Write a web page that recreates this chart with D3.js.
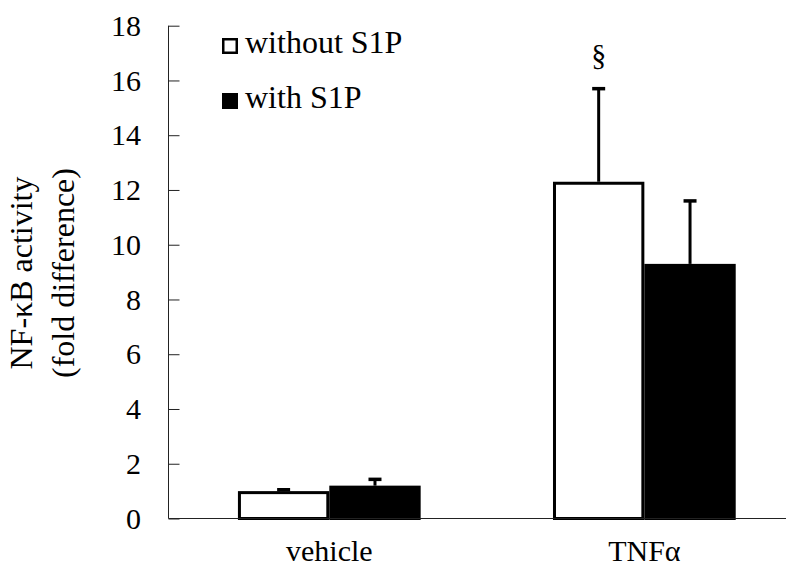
<!DOCTYPE html>
<html>
<head>
<meta charset="utf-8">
<script src="https://cdn.jsdelivr.net/npm/d3@7"></script>
<style>
  html, body { margin: 0; padding: 0; background: #fff; }
  svg text { font-family: "Liberation Serif", "Times New Roman", "DejaVu Serif", serif; }
</style>
</head>
<body>
<svg id="chart" width="788" height="569"></svg>
<script>
// NF-κB activity, fold difference over control
const categories = ["vehicle", "TNFα"];
const seriesNames = ["without S1P", "with S1P"];
const withoutS1P = [1.0, 12.3];
const withS1P = [1.2, 9.3];
const withoutS1PErr = [0.05, 3.4];
const withS1PErr = [0.23, 2.3];
const yTicks = [0, 2, 4, 6, 8, 10, 12, 14, 16, 18];
const yLabelLines = ["NF-κB activity", "(fold difference)"];
const significance = [null, "§"];

const FONT = "Liberation Serif, Times New Roman, serif";
const svg = d3.select("#chart");
const plotLeft = 168.5, plotRight = 786, plotTop = 25.7, plotBottom = 518.5;

const y = d3.scaleLinear().domain([0, 18]).range([plotBottom, plotTop]);
const x = d3.scaleBand().domain(categories).range([plotLeft, plotRight])
  .paddingInner(0.42).paddingOuter(0.19).align(0.58);
const xs = d3.scaleBand().domain(seriesNames).range([0, x.bandwidth()]).padding(0);

const fills = { "without S1P": "#fff", "with S1P": "#000" };
const rows = categories.map((c, i) => ({
  cat: c,
  sig: significance[i],
  vals: [
    { s: seriesNames[0], v: withoutS1P[i], e: withoutS1PErr[i] },
    { s: seriesNames[1], v: withS1P[i], e: withS1PErr[i] }
  ]
}));

// y axis
const yAxis = d3.axisRight(y).tickValues(yTicks).tickSize(11).tickFormat("");
const gy = svg.append("g").attr("transform", `translate(${plotLeft},0)`).call(yAxis);
gy.select(".domain").attr("stroke", "#222").attr("d", `M0,${plotTop}V${plotBottom}`);
gy.selectAll(".tick line").attr("stroke", "#222");
svg.append("g").selectAll("text").data(yTicks).join("text")
  .attr("x", 141).attr("y", d => y(d)).attr("dy", "0.34em")
  .attr("text-anchor", "end").attr("font-family", FONT).attr("font-size", 30).attr("fill", "#000")
  .text(d => d);

// y label
const yl = svg.append("text")
  .attr("transform", `translate(0,273) rotate(-90)`)
  .attr("text-anchor", "middle").attr("font-family", FONT).attr("font-size", 32).attr("fill", "#000");
yLabelLines.forEach((t, i) => {
  yl.append("tspan").attr("x", 0).attr("y", 32 + i * 42).text(t);
});

// bars
const groups = svg.append("g").selectAll("g").data(rows).join("g")
  .attr("transform", d => `translate(${x(d.cat)},0)`);

// error bars (drawn behind the bars)
groups.selectAll("g.err").data(d => d.vals).join("g").attr("class", "err")
  .each(function(d) {
    const g = d3.select(this);
    const cx = xs(d.s) + xs.bandwidth() / 2;
    g.append("line").attr("x1", cx).attr("x2", cx)
      .attr("y1", y(d.v)).attr("y2", y(d.v + d.e))
      .attr("stroke", "#000").attr("stroke-width", 3);
    g.append("line").attr("x1", cx - 6.5).attr("x2", cx + 6.5)
      .attr("y1", y(d.v + d.e)).attr("y2", y(d.v + d.e))
      .attr("stroke", "#000").attr("stroke-width", 3.5);
  });

groups.selectAll("rect").data(d => d.vals).join("rect")
  .attr("x", d => xs(d.s) + 1.5)
  .attr("width", xs.bandwidth() - 3)
  .attr("y", d => y(d.v) + 1.5)
  .attr("height", d => y(0) - y(d.v) - 1.5)
  .attr("fill", d => fills[d.s])
  .attr("stroke", "#000").attr("stroke-width", 3);

// significance marks
groups.filter(d => d.sig).append("text")
  .attr("x", d => xs(d.vals[0].s) + xs.bandwidth() / 2)
  .attr("y", d => y(d.vals[0].v + d.vals[0].e) - 23.5)
  .attr("text-anchor", "middle").attr("font-family", FONT).attr("font-size", 30).attr("fill", "#000")
  .text(d => d.sig);

// x axis baseline
svg.append("line").attr("x1", plotLeft).attr("x2", plotRight)
  .attr("y1", plotBottom).attr("y2", plotBottom).attr("stroke", "#222").attr("stroke-width", 1.2);

// category labels
svg.append("g").selectAll("text").data(categories).join("text")
  .attr("x", d => x(d) + x.bandwidth() / 2).attr("y", 561)
  .attr("text-anchor", "middle").attr("font-family", FONT).attr("font-size", 30).attr("fill", "#000")
  .text(d => d);

// legend
const legend = svg.append("g").selectAll("g").data(seriesNames).join("g")
  .attr("transform", (d, i) => `translate(222,${38 + i * 55})`);
legend.append("rect").attr("x", 1.25).attr("y", 1.25).attr("width", 13.5).attr("height", 13.5)
  .attr("fill", d => fills[d]).attr("stroke", "#000").attr("stroke-width", 2.5);
legend.append("text").attr("x", 23).attr("y", 15)
  .attr("font-family", FONT).attr("font-size", 32).attr("fill", "#000").text(d => d);
</script>
</body>
</html>
